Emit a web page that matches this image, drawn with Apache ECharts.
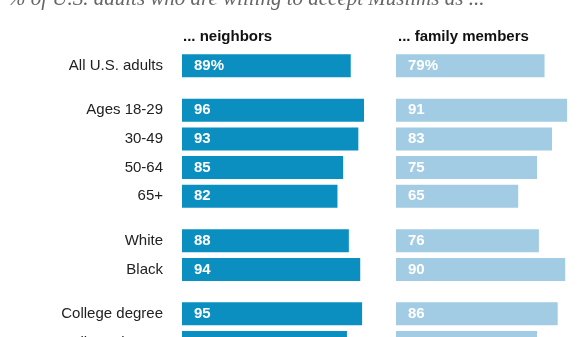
<!DOCTYPE html>
<html>
<head>
<meta charset="utf-8">
<script src="https://cdn.jsdelivr.net/npm/echarts@6/dist/echarts.min.js"></script>
<style>html,body{margin:0;padding:0;background:#fff;}#c{width:584px;height:337px;}</style>
</head>
<body>
<div id="c"></div>
<script>
var categories = ['All U.S. adults','Ages 18-29','30-49','50-64','65+','White','Black','College degree','Non-college degree'];
var groupSizes = [1, 4, 2, 2];
var neighbors = [89, 96, 93, 85, 82, 88, 94, 95, 87];
var family = [79, 91, 83, 75, 65, 76, 90, 86, 75];
var headers = ['... neighbors', '... family members'];
var titleText = '% of U.S. adults who are willing to accept Muslims as ...';

var rowH = 28.7;
var groupGap = 44.4;   // center-to-center distance across a group break
var firstCenter = 65.8;
var colLeft = [182, 396];
var colWidth = [189.6, 188];
var colColor = ['#0b8fc1', '#a2cce4'];
var colData = [neighbors, family];

var grids = [], xAxes = [], yAxes = [], series = [];
var center = firstCenter, start = 0;
groupSizes.forEach(function (n, g) {
  var top = center - rowH / 2;
  var cats = categories.slice(start, start + n);
  for (var c = 0; c < 2; c++) {
    var gi = grids.length;
    grids.push({left: colLeft[c], top: top, width: colWidth[c], height: n * rowH, outerBoundsMode: 'none'});
    xAxes.push({gridIndex: gi, type: 'value', min: 0, max: 100, show: false});
    yAxes.push({gridIndex: gi, type: 'category', data: cats, inverse: true, show: c === 0,
      axisLine: {show: false}, axisTick: {show: false}, splitLine: {show: false},
      axisLabel: {interval: 0, margin: 19, color: '#222', fontSize: 15, fontFamily: 'Liberation Sans'}});
    series.push({type: 'bar', xAxisIndex: gi, yAxisIndex: gi, barWidth: 23,
      data: colData[c].slice(start, start + n),
      itemStyle: {color: colColor[c]},
      label: {show: true, position: 'insideLeft', distance: 12, color: '#fff', fontWeight: 'bold',
        fontSize: 15, fontFamily: 'Liberation Sans',
        formatter: (function (isFirst) {
          return function (p) { return (isFirst && p.dataIndex === 0) ? p.value + '%' : String(p.value); };
        })(start === 0)}});
  }
  center += (n - 1) * rowH + groupGap;
  start += n;
});

var chart = echarts.init(document.getElementById('c'), null, {renderer: 'canvas'});
chart.setOption({
  animation: false,
  backgroundColor: '#fff',
  grid: grids,
  xAxis: xAxes,
  yAxis: yAxes,
  series: series,
  graphic: [
    {type: 'text', left: 8, top: -11, style: {text: titleText, fill: '#666', font: 'italic 21px "Liberation Serif"'}},
    {type: 'text', left: 183, top: 29, style: {text: headers[0], fill: '#111', font: 'bold 15px "Liberation Sans"'}},
    {type: 'text', left: 398, top: 29, style: {text: headers[1], fill: '#111', font: 'bold 15px "Liberation Sans"'}}
  ]
});
</script>
</body>
</html>
